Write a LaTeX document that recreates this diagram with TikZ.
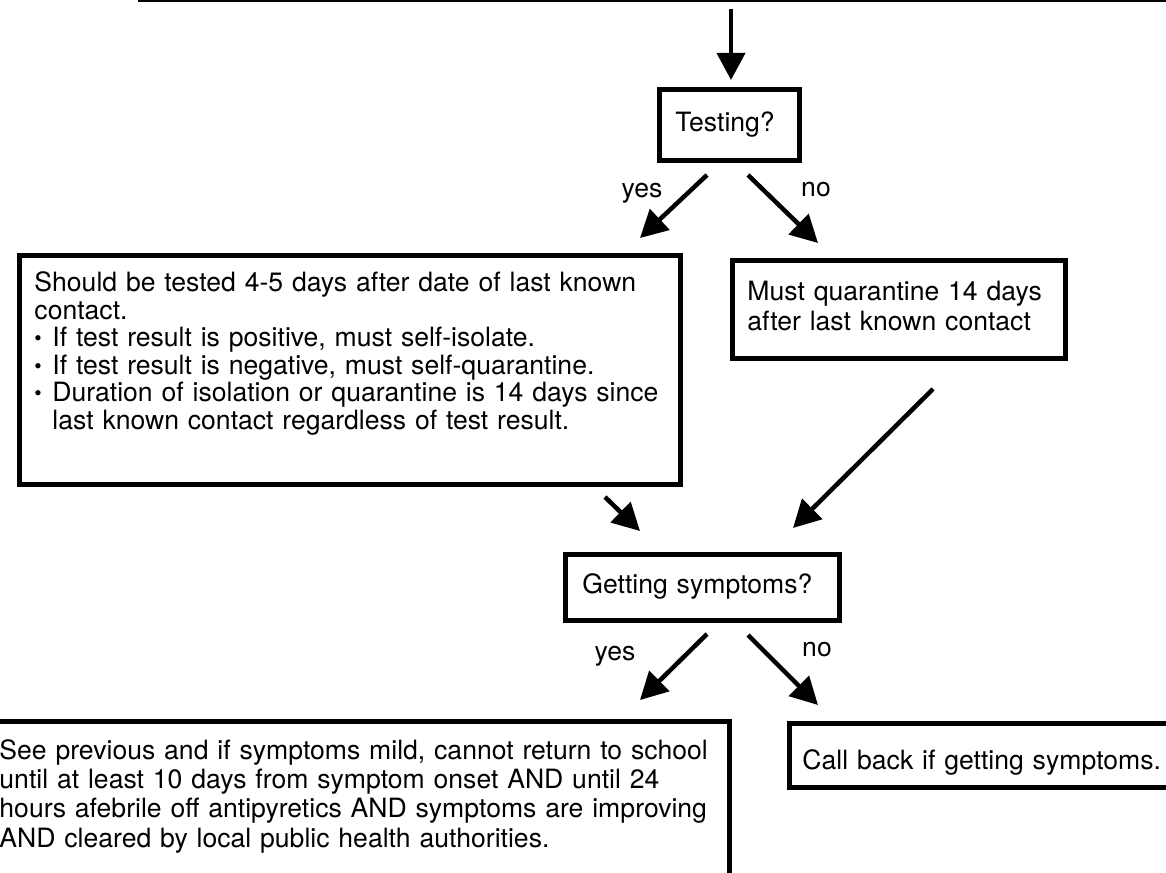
\documentclass[tikz,border=0pt]{standalone}
\usepackage{fontspec}
\setmainfont{TeX Gyre Heros}
\usetikzlibrary{arrows.meta}
\newcommand{\itm}{\makebox[0.45cm][l]{\raisebox{0.6pt}{\fontsize{15}{15}\selectfont\textbullet}}}

\begin{document}
\begin{tikzpicture}[x=0.025cm, y=-0.025cm,
	font=\fontsize{18.9}{21.3}\selectfont,
	box/.style={draw, line width=3.5pt, anchor=north west, align=left, inner ysep=0pt},
	arr/.style={line width=3.2pt, -{Triangle[length=0.68cm, width=0.7cm]}},
	lbl/.style={inner sep=0pt}]
	\fill[white] (0,0) rectangle (1166,873);
	\useasboundingbox (0,0) rectangle (1166,873);

	% line at the top and the boxes
	\coordinate (topl) at (138,1);
	\coordinate (topr) at (1180,1);
	\draw[line width=1.4pt] (topl) -- (topr);

	\node[box, inner xsep=0.4cm, text width=2.7cm, text height=1.05cm, text depth=0.725cm] (testq) at (657,87) {Testing?};
	\node[box, font=\fontsize{18.9}{19.6}\selectfont, inner xsep=0.375cm, text width=15.775cm, text height=0.9cm, text depth=4.825cm] (testbox) at (17,253)
		{Should be tested 4-5 days after date of last known\\
		contact.\\
		\itm If test result is positive, must self-isolate.\\
		\itm If test result is negative, must self-quarantine.\\
		\itm Duration of isolation or quarantine is 14 days since\\
		\hspace*{0.45cm}last known contact regardless of test result.};
	\node[box, inner xsep=0.375cm, text width=7.575cm, text height=1.0cm, text depth=1.45cm] (quarbox) at (730,258)
		{Must quarantine 14 days\\ after last known contact};
	\node[box, inner xsep=0.425cm, text width=6.0cm, text height=0.975cm, text depth=0.675cm] (symq) at (563,552) {Getting symptoms?};
	\node[box, font=\fontsize{18.9}{20.8}\selectfont, inner xsep=0.375cm, text width=17.875cm, text height=0.95cm, text depth=7.5cm] (sympbox) at (-18,719)
		{See previous and if symptoms mild, cannot return to school\\
		until at least 10 days from symptom onset AND until 24\\
		hours afebrile off antipyretics AND symptoms are improving\\
		AND cleared by local public health authorities.};
	\node[box, inner xsep=0.325cm, text width=9.35cm, text height=1.15cm, text depth=0.45cm] (callbox) at (787,721) {Call back if getting symptoms.};

	% labels
	\node[lbl] (yes1) at (642,193) {yes};
	\node[lbl] (no1) at (816,190) {no};
	\node[lbl] (yes2) at (615,656) {yes};
	\node[lbl] (no2) at (817,650) {no};

	% arrows
	\coordinate (a0) at (731,9);     \coordinate (b0) at (731,80);
	\coordinate (a1) at (707,175);   \coordinate (b1) at (640,238);
	\coordinate (a2) at (748,175);   \coordinate (b2) at (818,243);
	\coordinate (a3) at (605,497);   \coordinate (b3) at (640,531);
	\coordinate (a4) at (933,389);   \coordinate (b4) at (793,528);
	\coordinate (a5) at (707,634);   \coordinate (b5) at (640,700);
	\coordinate (a6) at (748,635);   \coordinate (b6) at (818,705);
	\foreach \i in {0,...,6}
		\draw[arr] (a\i) -- (b\i);
\end{tikzpicture}
\end{document}
